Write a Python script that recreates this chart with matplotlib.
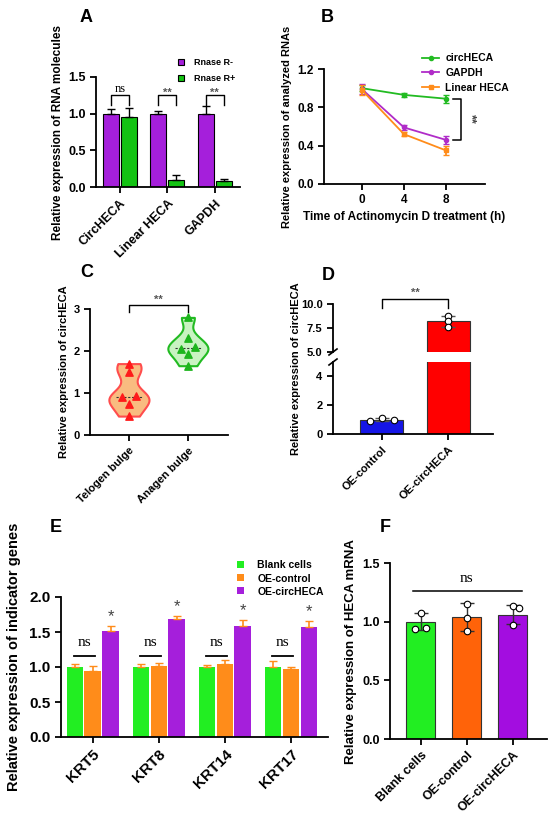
import numpy as np
import matplotlib
matplotlib.use("Agg")
import matplotlib.pyplot as plt

W, H = 550, 824
plt.rcParams["font.family"] = ["Liberation Sans", "DejaVu Sans"]
plt.rcParams["font.weight"] = "bold"
plt.rcParams["axes.linewidth"] = 1.3
plt.rcParams["xtick.major.width"] = 1.3
plt.rcParams["ytick.major.width"] = 1.3
plt.rcParams["xtick.major.size"] = 4
plt.rcParams["ytick.major.size"] = 4

# ---- data ----
# A
a_groups = ["CircHECA", "Linear HECA", "GAPDH"]
a_minus = [1.0, 1.0, 1.0]
a_minus_err = [0.07, 0.04, 0.11]
a_plus = [0.96, 0.10, 0.08]
a_plus_err = [0.12, 0.06, 0.03]
a_sig = ["ns", "**", "**"]

# B
b_time = [0, 4, 8]
b_circ = [1.0, 0.93, 0.89]
b_circ_err = [0.03, 0.02, 0.04]
b_gapdh = [0.99, 0.59, 0.46]
b_gapdh_err = [0.05, 0.03, 0.04]
b_linear = [0.98, 0.52, 0.35]
b_linear_err = [0.05, 0.02, 0.05]

# C
c_groups = ["Telogen bulge", "Anagen bulge"]
c_telogen = [1.70, 1.50, 0.90, 0.93, 0.75, 0.45]
c_anagen = [2.80, 2.30, 2.05, 2.10, 1.92, 1.65]

# D
d_groups = ["OE-control", "OE-circHECA"]
d_means = [1.0, 8.2]
d_err = [0.08, 0.6]
d_points = [[0.92, 1.12, 0.95], [8.8, 8.2, 7.6]]

# E
e_genes = ["KRT5", "KRT8", "KRT14", "KRT17"]
e_blank = [1.0, 1.0, 1.0, 1.0]
e_blank_err = [0.05, 0.04, 0.03, 0.08]
e_ctrl = [0.95, 1.02, 1.05, 0.97]
e_ctrl_err = [0.06, 0.04, 0.05, 0.03]
e_circ = [1.52, 1.69, 1.59, 1.57]
e_circ_err = [0.06, 0.04, 0.08, 0.09]

# F
f_groups = ["Blank cells", "OE-control", "OE-circHECA"]
f_means = [1.0, 1.04, 1.06]
f_sd = [0.07, 0.12, 0.08]
f_points = [[1.07, 0.94, 0.95], [1.15, 1.03, 0.92], [1.13, 1.12, 0.97]]

PURPLE = "#A51FDB"
GREEN = "#13C313"
BRIGHT_GREEN = "#22EE22"
ORANGE = "#FF8C1A"


def px_axes(fig, x0, y0, x1, y1):
    return fig.add_axes([x0 / W, 1 - y1 / H, (x1 - x0) / W, (y1 - y0) / H])


def clean(ax):
    ax.spines["top"].set_visible(False)
    ax.spines["right"].set_visible(False)
    for lab in ax.get_xticklabels() + ax.get_yticklabels():
        lab.set_fontweight("bold")


def panel_label(fig, x, y, s):
    fig.text(x / W, 1 - y / H, s, fontsize=13, fontweight="bold", ha="left", va="center")


def bracket(ax, x0, x1, y, drop, text, fs=8, serif=False, gap=0.02):
    ax.plot([x0, x0, x1, x1], [y - drop, y, y, y - drop], color="black", lw=1.0, clip_on=False)
    kw = dict(family="Liberation Serif", fontweight="normal") if serif else dict(color="#555555")
    ax.text((x0 + x1) / 2, y + gap, text, ha="center", va="bottom", fontsize=fs, clip_on=False, **kw)


fig = plt.figure(figsize=(W / 100, H / 100), dpi=100)

# ---- A ----
ax = px_axes(fig, 96, 77, 240, 187)
x = np.arange(len(a_groups))
bw = 0.34
ax.bar(x - 0.19, a_minus, bw, color=PURPLE, edgecolor="black", lw=0.8, label="Rnase R-",
       yerr=[np.zeros(3), a_minus_err], error_kw=dict(ecolor="black", capsize=3, elinewidth=1))
ax.bar(x + 0.19, a_plus, bw, color=GREEN, edgecolor="black", lw=0.8, label="Rnase R+",
       yerr=[np.zeros(3), a_plus_err], error_kw=dict(ecolor="black", capsize=3, elinewidth=1))
ax.set_xlim(-0.5, 2.53)
ax.set_ylim(0, 1.5)
ax.set_yticks([0, 0.5, 1.0, 1.5])
ax.set_yticklabels(["0.0", "0.5", "1.0", "1.5"], fontsize=9)
ax.set_xticks(x)
ax.set_xticklabels(a_groups, rotation=45, ha="right", rotation_mode="anchor", fontsize=9)
ax.set_ylabel("Relative expression of RNA molecules", fontsize=8.5, fontweight="bold", labelpad=3)
for i, s in enumerate(a_sig):
    if s == "ns":
        bracket(ax, i - 0.19, i + 0.19, 1.25, 0.13, s, fs=9, serif=True, gap=0.01)
    else:
        bracket(ax, i - 0.19, i + 0.19, 1.25, 0.13, s, fs=8, gap=-0.04)
clean(ax)
leg = ax.legend(loc="upper left", bbox_to_anchor=(170 / W, 1 - 50 / H), bbox_transform=fig.transFigure,
                frameon=False, handlelength=0.6, handleheight=0.6, handletextpad=1.2,
                labelspacing=0.8, prop=dict(weight="bold", size=6.5))
for h in leg.legend_handles:
    h.set_height(4); h.set_width(4)
panel_label(fig, 80, 17, "A")

# ---- B ----
ax = px_axes(fig, 324, 69, 485, 184)
series = [(b_circ, b_circ_err, "#22BB22", "o", "circHECA"),
          (b_gapdh, b_gapdh_err, "#B02CC8", "o", "GAPDH"),
          (b_linear, b_linear_err, ORANGE, "s", "Linear HECA")]
for vals, errs, col, mk, lab in series:
    ax.errorbar(b_time, vals, yerr=errs, color=col, fmt="none", lw=1.3, capsize=2.5)
    ax.plot(b_time, vals, color=col, marker=mk, ms=3, lw=1.3, label=lab)
ax.set_xlim(-3.6, 11.7)
ax.set_ylim(0, 1.2)
ax.set_xticks(b_time)
ax.set_yticks([0, 0.4, 0.8, 1.2])
ax.set_yticklabels(["0.0", "0.4", "0.8", "1.2"], fontsize=8.5)
ax.set_xticklabels([str(t) for t in b_time], fontsize=8.5)
ax.set_xlabel("Time of Actinomycin D treatment (h)", fontsize=8.5, fontweight="bold", labelpad=3)
ax.set_ylabel("Relative expression of analyzed RNAs", fontsize=8, fontweight="bold", labelpad=4)
bx = 9.4
ax.plot([bx - 0.7, bx, bx, bx - 0.7], [b_circ[2], b_circ[2], b_gapdh[2], b_gapdh[2]], color="black", lw=1.1)
ax.text(bx + 0.9, (b_circ[2] + b_gapdh[2]) / 2, "**", rotation=-90, ha="center", va="center",
        fontsize=9, color="#444444")
clean(ax)
ax.legend(loc="upper left", bbox_to_anchor=(413 / W, 1 - 44 / H), bbox_transform=fig.transFigure,
          frameon=False, handlelength=1.6, handletextpad=0.6, labelspacing=0.45,
          prop=dict(weight="bold", size=7.5))
panel_label(fig, 321, 17, "B")

# ---- C ----
ax = px_axes(fig, 90, 309, 228, 435)
pos = [1, 2]
vp = ax.violinplot([c_telogen, c_anagen], positions=pos, widths=0.68, showextrema=False, bw_method=0.45)
fills = ["#F9BC80", "#C9F3C2"]
edges = ["#FF4D4D", "#22BB22"]
for body, fc, ec in zip(vp["bodies"], fills, edges):
    body.set_facecolor(fc)
    body.set_edgecolor(ec)
    body.set_linewidth(1.5)
    body.set_alpha(1)
jit = [0, 0, -0.12, 0.12, 0, 0]
marks = ["#FF1A1A", "#1DB51D"]
for p, vals, mc in zip(pos, [c_telogen, c_anagen], marks):
    ax.scatter(np.array(jit) + p, vals, marker="^", s=28, color=mc, zorder=3)
    ax.hlines(np.median(vals), p - 0.22, p + 0.22, colors="#333333", linestyles=(0, (2, 1.5)), lw=0.8, zorder=2)
ax.set_xlim(0.34, 2.68)
ax.set_ylim(0, 3)
ax.set_yticks([0, 1, 2, 3])
ax.set_yticklabels(["0", "1", "2", "3"], fontsize=8)
ax.set_xticks(pos)
ax.set_xticklabels(c_groups, rotation=45, ha="right", rotation_mode="anchor", fontsize=8)
ax.set_ylabel("Relative expression of circHECA", fontsize=8, fontweight="bold", labelpad=3)
bracket(ax, 1, 2, 3.1, 0.18, "**", fs=8, gap=0.0)
clean(ax)
panel_label(fig, 80, 272, "C")

# ---- D (broken axis) ----
xd = np.arange(len(d_groups))
dcol = ["#1515E6", "#FF0000"]
ax_top = px_axes(fig, 333, 304, 493, 352)
ax_bot = px_axes(fig, 333, 362, 493, 434)
for a in (ax_top, ax_bot):
    a.bar(xd, d_means, 0.65, color=dcol, edgecolor="#333333", lw=0.8)
    a.errorbar(xd, d_means, yerr=d_err, fmt="none", ecolor="#555555", capsize=5, elinewidth=1)
    for i, pts in enumerate(d_points):
        a.scatter(xd[i] + np.array([-0.18, 0.0, 0.18]) * (1 if i == 0 else 0), pts, s=22, facecolor="white",
                  edgecolor="black", lw=0.8, zorder=4, clip_on=False if a is ax_top else True)
    a.set_xlim(-0.74, 1.68)
    a.spines["right"].set_visible(False)
ax_top.set_ylim(5, 10)
ax_top.set_yticks([5, 7.5, 10])
ax_top.set_yticklabels(["5.0", "7.5", "10.0"], fontsize=8)
ax_top.spines["top"].set_visible(False)
ax_top.spines["bottom"].set_visible(False)
ax_top.set_xticks([])
ax_bot.set_ylim(0, 5)
ax_bot.set_yticks([0, 2, 4])
ax_bot.set_yticklabels(["0", "2", "4"], fontsize=8)
ax_bot.spines["top"].set_visible(False)
ax_bot.set_xticks(xd)
ax_bot.set_xticklabels(d_groups, rotation=45, ha="right", rotation_mode="anchor", fontsize=8)
for a in (ax_top, ax_bot):
    for lab in a.get_xticklabels() + a.get_yticklabels():
        lab.set_fontweight("bold")
# break marks
for yy in (352, 362):
    fig.lines.append(plt.Line2D([(329) / W, (337) / W], [1 - (yy + 3) / H, 1 - (yy - 3) / H],
                                transform=fig.transFigure, color="black", lw=1.2))
bracket(ax_top, 0, 1, 10.5, 0.9, "**", fs=8, gap=0.1)
fig.text(296 / W, 1 - 369 / H, "Relative expression of circHECA", rotation=90, ha="center", va="center",
         fontsize=8, fontweight="bold")
panel_label(fig, 322, 275, "D")

# ---- E ----
ax = px_axes(fig, 61, 597, 328, 737)
xe = np.arange(len(e_genes))
ebw = 0.25
ek = dict(ecolor=ORANGE, capsize=3, elinewidth=1.2)
ax.bar(xe - 0.27, e_blank, ebw, color=BRIGHT_GREEN, label="Blank cells",
       yerr=[np.zeros(4), e_blank_err], error_kw=ek)
ax.bar(xe, e_ctrl, ebw, color=ORANGE, label="OE-control",
       yerr=[np.zeros(4), e_ctrl_err], error_kw=ek)
ax.bar(xe + 0.27, e_circ, ebw, color=PURPLE, label="OE-circHECA",
       yerr=[np.zeros(4), e_circ_err], error_kw=ek)
for i in range(len(e_genes)):
    ax.plot([i - 0.29, i + 0.03], [1.16, 1.16], color="black", lw=1.3)
    ax.text(i - 0.13, 1.25, "ns", ha="center", va="bottom", fontsize=11, family="Liberation Serif",
            fontweight="normal")
    ax.text(i + 0.27, e_circ[i] + e_circ_err[i] + 0.03, "*", ha="center", va="bottom", fontsize=12,
            color="#444444", fontweight="normal")
ax.set_xlim(-0.48, 3.56)
ax.set_ylim(0, 2.0)
ax.set_yticks([0, 0.5, 1.0, 1.5, 2.0])
ax.set_yticklabels(["0.0", "0.5", "1.0", "1.5", "2.0"], fontsize=11)
ax.set_xticks(xe)
ax.set_xticklabels(e_genes, rotation=45, ha="right", rotation_mode="anchor", fontsize=11)
ax.set_ylabel("Relative expression of indicator genes", fontsize=10.5, fontweight="bold")
ax.yaxis.set_label_coords(-0.15, 0.57)
clean(ax)
leg = ax.legend(loc="upper left", bbox_to_anchor=(228 / W, 1 - 551 / H), bbox_transform=fig.transFigure,
                frameon=False, handlelength=0.6, handleheight=0.6, handletextpad=1.3, labelspacing=0.3,
                prop=dict(weight="bold", size=7.5))
for h in leg.legend_handles:
    h.set_height(5); h.set_width(5)
panel_label(fig, 50, 527, "E")

# ---- F ----
ax = px_axes(fig, 390, 563, 547, 739)
xf = np.arange(len(f_groups))
fcol = [BRIGHT_GREEN, "#FF6309", "#A30DE0"]
ax.bar(xf, f_means, 0.63, color=fcol, edgecolor="#333333", lw=0.8)
ax.errorbar(xf, f_means, yerr=f_sd, fmt="none", ecolor="#333333", capsize=5, elinewidth=1)
fj = [[0.0, -0.12, 0.12], [0.0, 0.0, 0.0], [0.0, 0.13, 0.0]]
for i, pts in enumerate(f_points):
    ax.scatter(xf[i] + np.array(fj[i]), pts, s=22, facecolor="white", edgecolor="black", lw=0.8, zorder=4)
ax.plot([-0.17, 2.2], [1.26, 1.26], color="black", lw=1.1)
ax.text(1.0, 1.31, "ns", ha="center", va="bottom", fontsize=11, family="Liberation Serif", fontweight="normal")
ax.set_xlim(-0.67, 2.74)
ax.set_ylim(0, 1.5)
ax.set_yticks([0, 0.5, 1.0, 1.5])
ax.set_yticklabels(["0.0", "0.5", "1.0", "1.5"], fontsize=9)
ax.set_xticks(xf)
ax.set_xticklabels(f_groups, rotation=45, ha="right", rotation_mode="anchor", fontsize=9)
ax.set_ylabel("Relative expression of HECA mRNA", fontsize=9.5, fontweight="bold", labelpad=4)
clean(ax)
panel_label(fig, 380, 527, "F")

fig.savefig("out.png", dpi=100, facecolor="white")
